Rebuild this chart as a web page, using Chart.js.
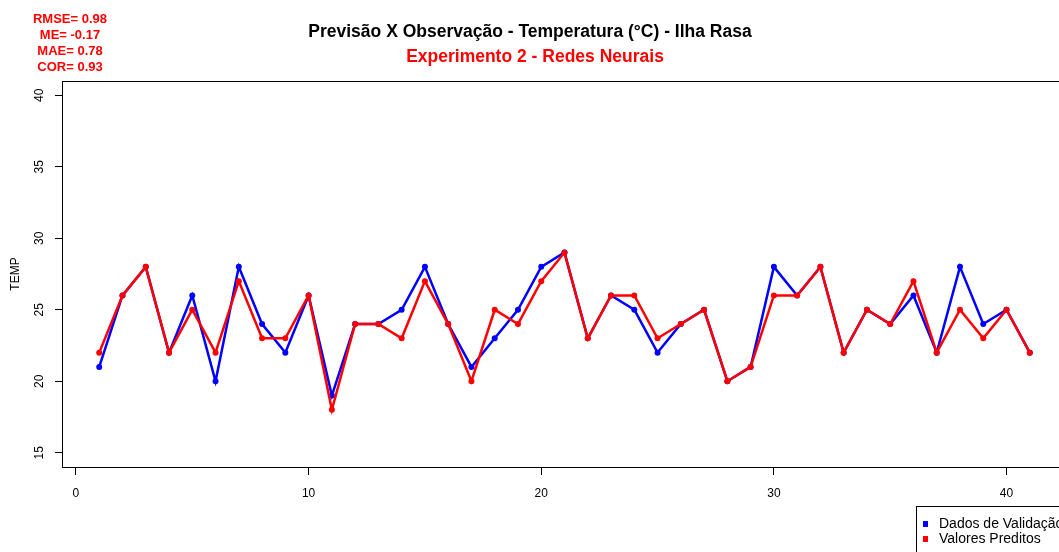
<!DOCTYPE html>
<html>
<head>
<meta charset="utf-8">
<script src="https://cdn.jsdelivr.net/npm/chart.js@4"></script>
<style>
  html, body { margin: 0; padding: 0; background: #fff; overflow: hidden; }
  #wrap { width: 1075px; height: 552px; }
</style>
</head>
<body>
<div id="wrap"><canvas id="chart" width="1075" height="552"></canvas></div>
<script>
  "use strict";

  // Data
  const steps = [1, 2, 3, 4, 5, 6, 7, 8, 9, 10, 11, 12, 13, 14, 15, 16, 17, 18, 19, 20,
    21, 22, 23, 24, 25, 26, 27, 28, 29, 30, 31, 32, 33, 34, 35, 36, 37, 38, 39, 40, 41];
  const observed = [21, 26, 28, 22, 26, 20, 28, 24, 22, 26, 19, 24, 24, 25, 28, 24, 21, 23, 25, 28,
    29, 23, 26, 25, 22, 24, 25, 20, 21, 28, 26, 28, 22, 25, 24, 26, 22, 28, 24, 25, 22];
  const predicted = [22, 26, 28, 22, 25, 22, 27, 23, 23, 26, 18, 24, 24, 23, 27, 24, 20, 25, 24, 27,
    29, 23, 26, 26, 23, 24, 25, 20, 21, 26, 26, 28, 22, 25, 24, 27, 22, 25, 23, 25, 22];
  const xTicks = [0, 10, 20, 30, 40];
  const yTicks = [15, 20, 25, 30, 35, 40];
  const stats = ["RMSE= 0.98", "ME= -0.17", "MAE= 0.78", "COR= 0.93"];
  const title = "Previsão X Observação - Temperatura (°C) - Ilha Rasa";
  const subtitle = "Experimento 2 - Redes Neurais";
  const legendNames = ["Dados de Validação", "Valores Preditos"];

  const BLUE = "#0000ff";
  const RED = "#ff0000";
  const FONT = "Arial, 'Liberation Sans', sans-serif";

  const toPoints = (vals) => vals.map((v, i) => ({ x: steps[i], y: v }));

  // Texts, box, rotated y labels and legend (R style)
  const decor = {
    id: "decor",
    afterDraw(chart) {
      const { ctx, chartArea: a } = chart;
      const ys = chart.scales.y;
      ctx.save();

      ctx.strokeStyle = "#000";
      ctx.lineWidth = 1;
      ctx.strokeRect(a.left + 0.5, a.top + 0.5, a.right - a.left, a.bottom - a.top);

      ctx.textAlign = "center";
      ctx.textBaseline = "middle";
      ctx.fillStyle = "#000";
      ctx.font = `bold 17.5px ${FONT}`;
      ctx.fillText(title, 530, 32);
      ctx.fillStyle = RED;
      ctx.fillText(subtitle, 535, 57);

      ctx.font = `bold 13px ${FONT}`;
      stats.forEach((s, i) => ctx.fillText(s, 70, 19 + i * 16.2));

      // y tick labels, vertical like R
      ctx.fillStyle = "#000";
      ctx.font = `12px ${FONT}`;
      yTicks.forEach(v => {
        const py = ys.getPixelForValue(v);
        ctx.save();
        ctx.translate(40, py);
        ctx.rotate(-Math.PI / 2);
        ctx.fillText(String(v), 0, 0);
        ctx.restore();
      });
      ctx.save();
      ctx.translate(16, (a.top + a.bottom) / 2);
      ctx.rotate(-Math.PI / 2);
      ctx.fillText("TEMP", 0, 0);
      ctx.restore();

      // legend box
      ctx.fillStyle = "#fff";
      ctx.fillRect(916, 506, 200, 60);
      ctx.strokeStyle = "#000";
      ctx.strokeRect(916.5, 506.5, 200, 60);
      ctx.font = `14px ${FONT}`;
      ctx.textAlign = "left";
      [BLUE, RED].forEach((c, i) => {
        const cy = 524 + i * 15;
        ctx.fillStyle = c;
        ctx.fillRect(923, cy - 3, 5, 6);
        ctx.fillStyle = "#000";
        ctx.fillText(legendNames[i], 939, cy);
      });
      ctx.restore();
    }
  };

  new Chart(document.getElementById("chart"), {
    type: "line",
    data: {
      datasets: [
        {
          label: legendNames[0],
          data: toPoints(observed),
          borderColor: BLUE,
          backgroundColor: BLUE,
          borderWidth: 2.5,
          pointRadius: 3,
          pointBorderWidth: 0,
          tension: 0,
          order: 1
        },
        {
          label: legendNames[1],
          data: toPoints(predicted),
          borderColor: RED,
          backgroundColor: RED,
          borderWidth: 2.5,
          pointRadius: 3,
          pointBorderWidth: 0,
          tension: 0,
          order: 0
        }
      ]
    },
    options: {
      responsive: false,
      animation: false,
      layout: { padding: { top: 81, right: 8, left: 0, bottom: 0 } },
      plugins: { legend: { display: false }, tooltip: { enabled: false }, title: { display: false } },
      scales: {
        x: {
          type: "linear",
          min: -0.6,
          max: 42.6,
          afterBuildTicks: (s) => { s.ticks = xTicks.map(v => ({ value: v })); },
          afterFit: (s) => { s.height = 85; },
          grid: { drawOnChartArea: false, drawTicks: true, tickLength: 8, color: "#000" },
          border: { display: true, color: "#000" },
          ticks: { color: "#000", font: { family: FONT, size: 12 }, padding: 11, maxRotation: 0 }
        },
        y: {
          type: "linear",
          min: 14,
          max: 41,
          afterBuildTicks: (s) => { s.ticks = yTicks.map(v => ({ value: v })); },
          afterFit: (s) => { s.width = 62; },
          grid: { drawOnChartArea: false, drawTicks: true, tickLength: 7, color: "#000" },
          border: { display: true, color: "#000" },
          ticks: { display: false }
        }
      }
    },
    plugins: [decor]
  });
</script>
</body>
</html>
